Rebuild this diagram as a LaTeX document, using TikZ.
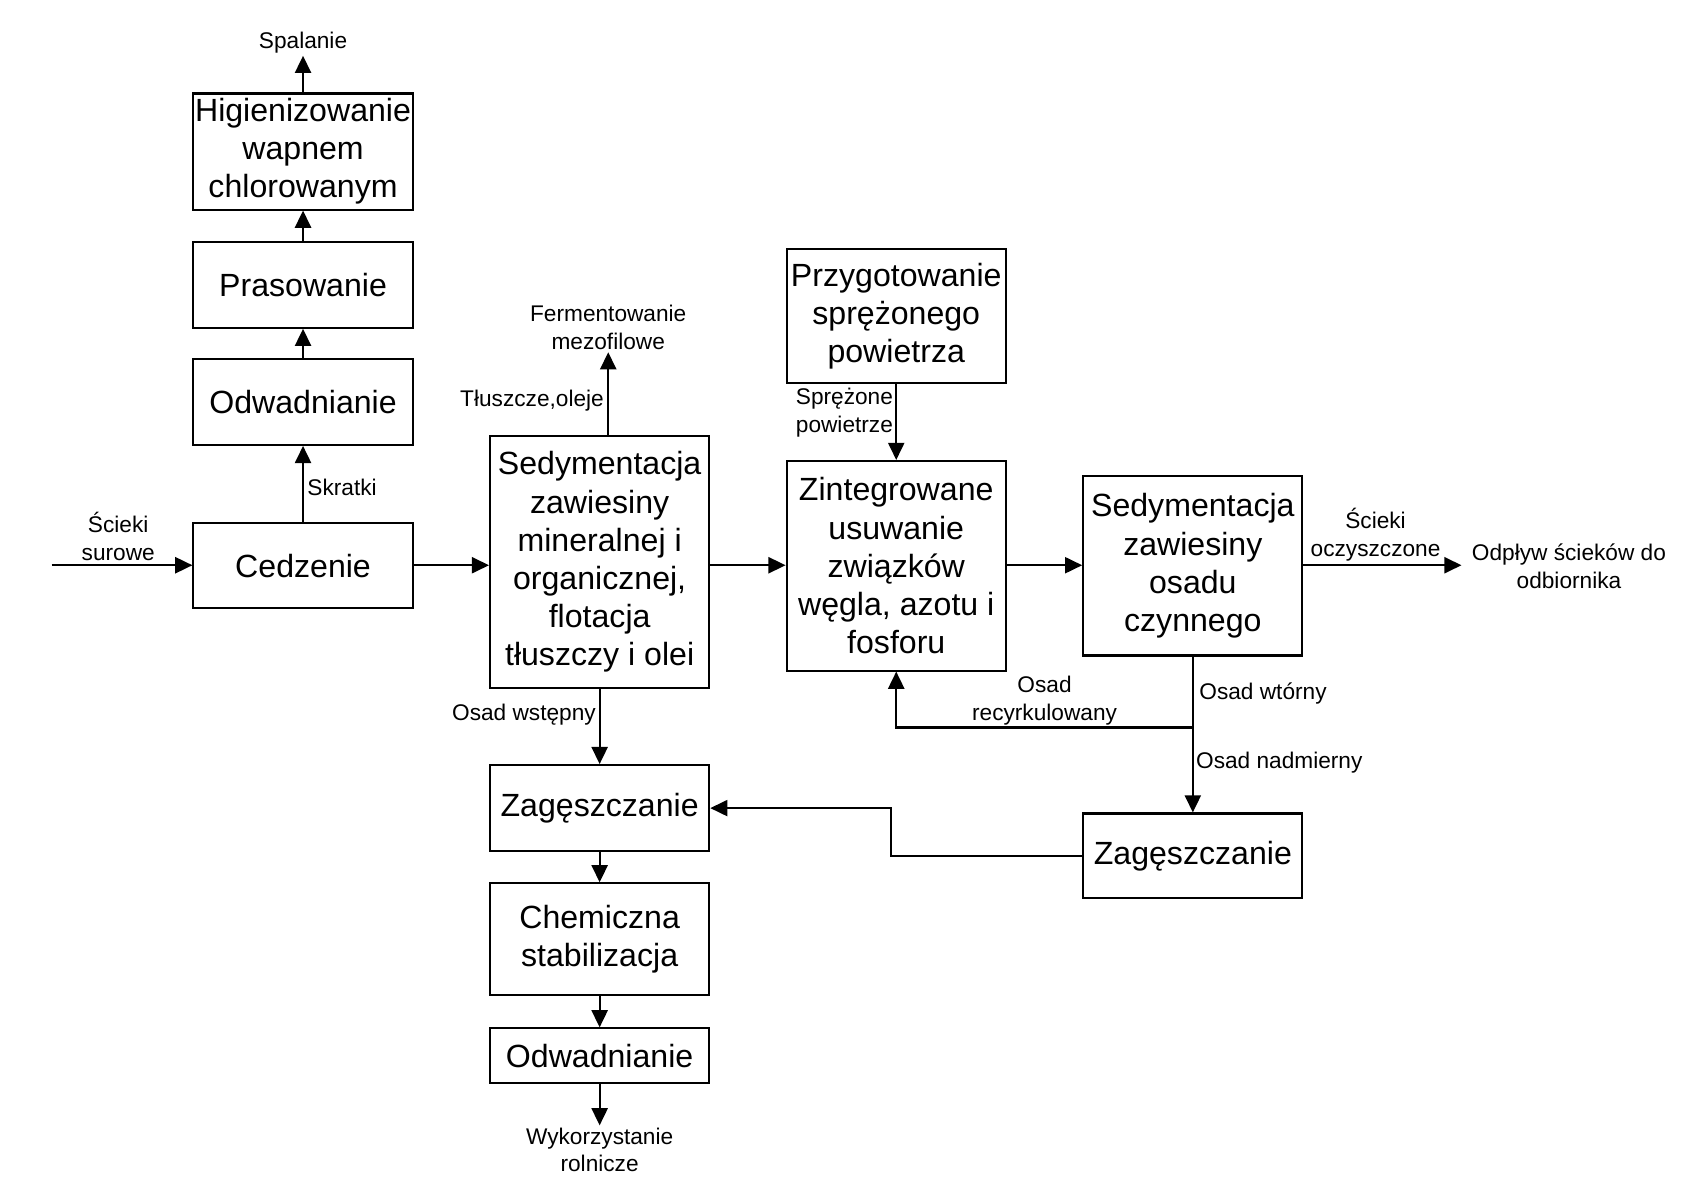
\documentclass[tikz,border=0pt]{standalone}
\usepackage{fontspec}
\setmainfont{Liberation Sans}
\usetikzlibrary{arrows.meta, positioning}
\definecolor{linecolor}{RGB}{0, 0, 0}
\tikzset{
    box/.style = {
        rectangle, draw=linecolor, line width=1.1pt, minimum width=4.08cm,
        align=center, inner sep=1pt, font=\fontsize{17}{20.2}\selectfont
    },
    lbl/.style = {align=center, inner sep=1pt, font=\fontsize{12}{14.7}\selectfont},
    arrow/.style = {-{Triangle[length=3.2mm,width=3mm]}, line width=1.1pt, draw=linecolor},
    line/.style = {line width=1.1pt, draw=linecolor}
}

\begin{document}
\begin{tikzpicture}
\useasboundingbox (0,0) rectangle (31.36,22.34);
% Nodes
\node[box, minimum height=2.16cm] (hig) at (5.64,19.52) {Higienizowanie\\wapnem\\chlorowanym};
\node[box, minimum height=1.6cm] (pras) at (5.64,17.04) {Prasowanie};
\node[box, minimum height=1.6cm] (odw1) at (5.64,14.86) {Odwadnianie};
\node[box, minimum height=1.58cm] (cedz) at (5.64,11.81) {Cedzenie};
\node[box, minimum height=4.68cm] (sed1) at (11.16,11.88) {Sedymentacja\\zawiesiny\\mineralnej i\\organicznej,\\flotacja\\tłuszczy i olei};
\node[box, minimum height=2.48cm] (przyg) at (16.68,16.46) {Przygotowanie\\sprężonego\\powietrza};
\node[box, minimum height=3.9cm] (zint) at (16.68,11.81) {Zintegrowane\\usuwanie\\związków\\węgla, azotu i\\fosforu};
\node[box, minimum height=3.34cm] (sed2) at (22.2,11.81) {Sedymentacja\\zawiesiny\\osadu\\czynnego};
\node[box, minimum height=1.6cm] (zag1) at (11.16,7.3) {Zagęszczanie};
\node[box, minimum height=1.58cm] (zag2) at (22.2,6.41) {Zagęszczanie};
\node[box, minimum height=2.08cm] (chem) at (11.16,4.86) {Chemiczna\\stabilizacja};
\node[box, minimum height=1.02cm] (odw2) at (11.16,2.69) {Odwadnianie};
% Labels
\node[lbl] (spal) at (5.64,21.54) {Spalanie};
\node[lbl] (ferm) at (11.32,16.24) {Fermentowanie\\mezofilowe};
\node[lbl] (wyk) at (11.16,0.94) {Wykorzystanie\\rolnicze};
\node[lbl] (surowe) at (2.2,12.35) {Ścieki\\surowe};
\node[lbl] (oczysz) at (25.6,12.39) {Ścieki\\oczyszczone};
\node[lbl] (odplyw) at (29.2,11.8) {Odpływ ścieków do\\odbiornika};
\node[lbl, anchor=west] (skratki) at (5.68,13.26) {Skratki};
\node[lbl, anchor=east] (tluszcze) at (11.28,14.88) {Tłuszcze,oleje};
\node[lbl, anchor=east] (sprezone) at (16.66,14.66) {Sprężone\\powietrze};
\node[lbl, anchor=east] (wstepny) at (11.13,9.04) {Osad wstępny};
\node[lbl] (recyrk) at (19.44,9.3) {Osad\\recyrkulowany};
\node[lbl, anchor=west] (wtorny) at (22.28,9.44) {Osad wtórny};
\node[lbl, anchor=west] (nadmier) at (22.22,8.14) {Osad nadmierny};
\coordinate (wej) at (0.96,11.82);
\coordinate (wyl) at (27.2,11.82);
\coordinate (rozg) at (22.2,8.8);
% Arrows
\draw[arrow] (wej) -- (cedz.west |- wej);
\draw[arrow] (cedz.east |- wej) -- (sed1.west |- wej);
\draw[arrow] (sed1.east |- wej) -- (zint.west |- wej);
\draw[arrow] (zint.east |- wej) -- (sed2.west |- wej);
\draw[arrow] (sed2.east |- wej) -- (wyl);
\draw[arrow] (cedz) -- (odw1);
\draw[arrow] (odw1) -- (pras);
\draw[arrow] (pras) -- (hig);
\draw[arrow] (hig) -- (spal);
\draw[arrow] (sed1.north -| ferm.south) -- (ferm.south);
\draw[arrow] (przyg) -- (zint);
\draw[arrow] (sed1) -- (zag1);
\draw[arrow] (zag1) -- (chem);
\draw[arrow] (chem) -- (odw2);
\draw[arrow] (odw2) -- (wyk);
\draw[arrow] (sed2) -- (zag2);
\draw[arrow] (rozg) -| (zint.south);
\draw[arrow] (zag2.west) -- ++(-3.56,0) |- (zag1.east);
\end{tikzpicture}
\end{document}
